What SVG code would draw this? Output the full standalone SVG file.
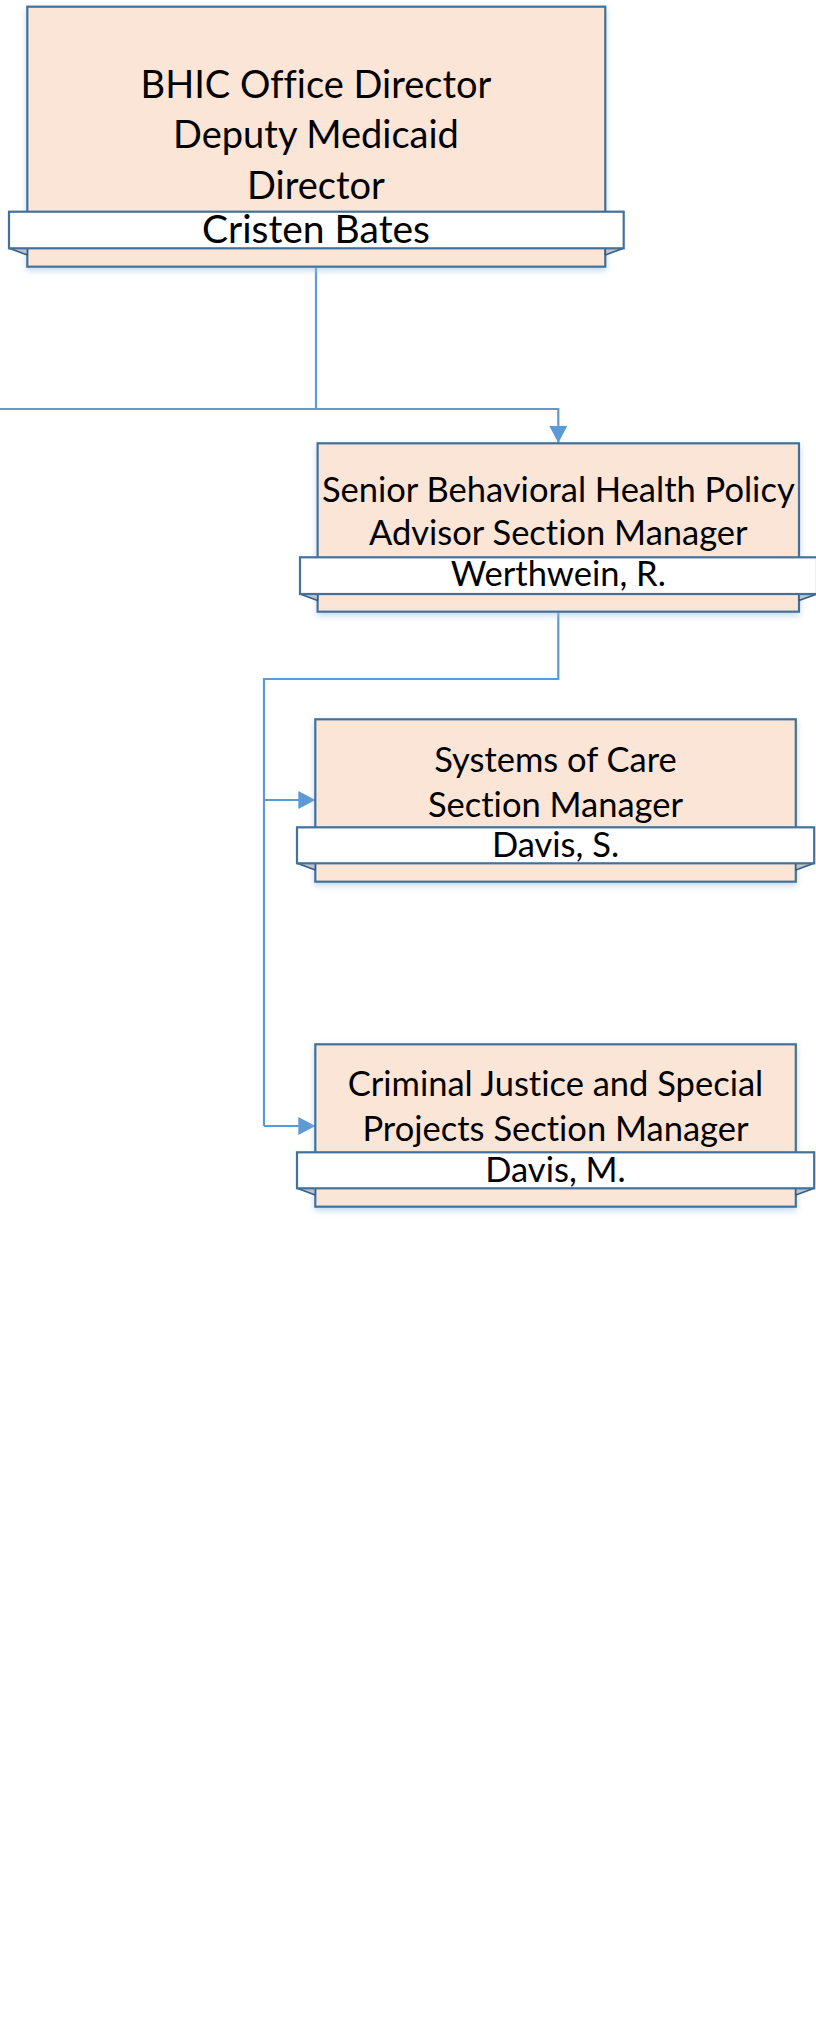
<svg xmlns="http://www.w3.org/2000/svg" width="816" height="2033" viewBox="0 0 816 2033">
<defs>
<filter id="sh" x="-10%" y="-10%" width="120%" height="130%">
<feDropShadow dx="0" dy="3" stdDeviation="3" flood-color="#9DC3E6" flood-opacity="0.6"/>
</filter>
<marker id="ar" viewBox="0 0 17 18" refX="17" refY="9" markerWidth="17" markerHeight="18" markerUnits="userSpaceOnUse" orient="auto">
<path d="M0,0 L17,9 L0,18 Z" fill="#5B9BD5"/>
</marker>
</defs>
<style>
.box{fill:#FBE5D6;stroke:#41719C;stroke-width:2.2}
.band{fill:#FFFFFF;stroke:#41719C;stroke-width:2.2}
.flap{fill:#BFC3C8;stroke:#2F5F8F;stroke-width:1.5;stroke-linejoin:round}
.t{font-family:Lato,"Open Sans","Liberation Sans",sans-serif;fill:#000;text-anchor:middle;font-variant-ligatures:none;font-feature-settings:"liga" 0}
.big{font-size:38px}
.name{font-size:39px}
.med{font-size:34.5px}
.conn{fill:none;stroke:#5B9BD5;stroke-width:2.2}
</style>
<rect width="816" height="2033" fill="#FFFFFF"/>
<g id="connectors">
<polyline class="conn" points="316,267 316,409 0,409"/>
<polyline class="conn" points="316,409 558.3,409 558.3,443" marker-end="url(#ar)"/>
<polyline class="conn" points="558.3,612 558.3,679 264,679 264,1126" />
<polyline class="conn" points="264,800 315.3,800" marker-end="url(#ar)"/>
<polyline class="conn" points="264,1126 315.3,1126" marker-end="url(#ar)"/>
</g>
<g id="node-bates">
<rect class="box" x="27.3" y="6.7" width="578" height="260" filter="url(#sh)"/>
<polygon class="flap" points="9,248.3 27.3,248.3 27.3,255"/>
<polygon class="flap" points="623.7,248.3 605.3,248.3 605.3,255"/>
<rect class="band" x="9" y="211.7" width="614.7" height="36.6"/>
<text class="t big" x="316" y="97.7">BHIC Office Director</text>
<text class="t big" x="316" y="148.3">Deputy Medicaid</text>
<text class="t big" x="316" y="199">Director</text>
<text class="t name" x="316" y="242.7">Cristen Bates</text>
</g>
<g id="node-werthwein">
<rect class="box" x="317.6" y="443.3" width="481.4" height="168.4" filter="url(#sh)"/>
<polygon class="flap" points="300,594 317.6,594 317.6,600.5"/>
<polygon class="flap" points="817,594 799,594 799,600.5"/>
<rect class="band" x="300" y="557.3" width="517" height="36.7"/>
<text class="t med" x="558.3" y="501.7">Senior Behavioral Health Policy</text>
<text class="t med" x="558.3" y="545">Advisor Section Manager</text>
<text class="t med" x="558.3" y="586">Werthwein, R.</text>
</g>
<g id="node-davis-s">
<rect class="box" x="315.3" y="719.3" width="480.5" height="162.4" filter="url(#sh)"/>
<polygon class="flap" points="297,863.3 315.3,863.3 315.3,870"/>
<polygon class="flap" points="814.2,863.3 795.8,863.3 795.8,870"/>
<rect class="band" x="297" y="827.3" width="517.2" height="36"/>
<text class="t med" x="555.5" y="771.7">Systems of Care</text>
<text class="t med" x="555.5" y="816.7">Section Manager</text>
<text class="t med" x="555.5" y="856.7">Davis, S.</text>
</g>
<g id="node-davis-m">
<rect class="box" x="315.3" y="1044.3" width="480.5" height="162.4" filter="url(#sh)"/>
<polygon class="flap" points="297,1188.3 315.3,1188.3 315.3,1195"/>
<polygon class="flap" points="814.2,1188.3 795.8,1188.3 795.8,1195"/>
<rect class="band" x="297" y="1152.3" width="517.2" height="36"/>
<text class="t med" x="555.5" y="1096">Criminal Justice and Special</text>
<text class="t med" x="555.5" y="1140.7">Projects Section Manager</text>
<text class="t med" x="555.5" y="1181.7">Davis, M.</text>
</g>
</svg>
